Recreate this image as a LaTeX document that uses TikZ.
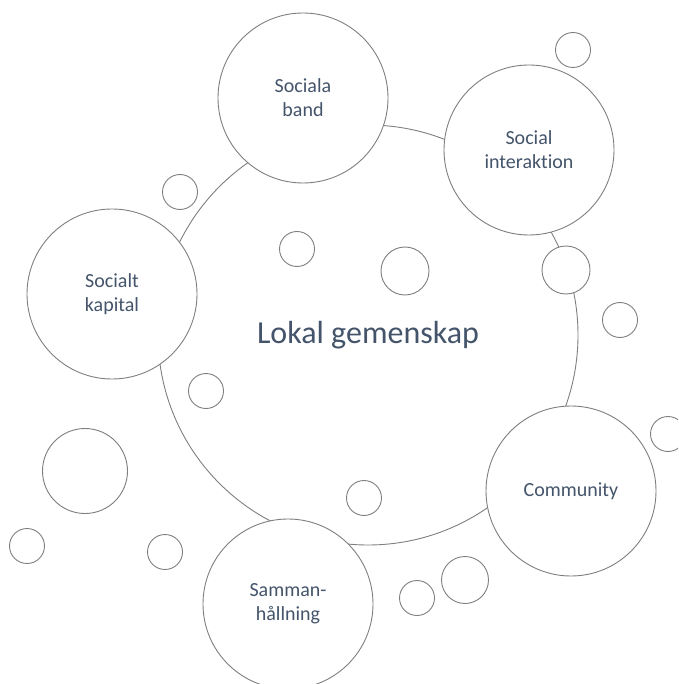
\documentclass[tikz,border=0pt]{standalone}
\usepackage{fontspec}
\setmainfont[Ligatures=CommonOff]{Carlito}
\definecolor{labeltext}{HTML}{44546A}
\definecolor{rimgray}{HTML}{7F7F7F}
\tikzset{
  bubble/.style={circle, draw=rimgray, line width=0.9pt, fill=white,
    inner sep=0pt, outer sep=0pt, text=labeltext, align=center,
    font=\fontsize{20}{24}\selectfont},
}
\begin{document}
\begin{tikzpicture}[x=1pt, y=-1pt]
            \useasboundingbox (0, 0) rectangle (678, 684);
            \clip (0, 0) rectangle (678, 684);
            % main circle
            \node[bubble, minimum size=420pt, font=\fontsize{32}{38}\selectfont] (lokal) at (368, 335) {Lokal gemenskap};
            % labelled circles
            \node[bubble, minimum size=170pt] (band) at (303, 98) {Sociala\\band};
            \node[bubble, minimum size=170pt] (interaktion) at (529, 150) {Social\\interaktion};
            \node[bubble, minimum size=170pt] (kapital) at (112, 294) {Socialt\\kapital};
            \node[bubble, minimum size=170pt] (community) at (571, 491) {Community};
            \node[bubble, minimum size=170pt] (hallning) at (288, 604) {Samman-\\hållning};
            % empty circles
            \node[bubble, minimum size=35pt] (e1) at (573, 50) {};
            \node[bubble, minimum size=35pt] (e2) at (180, 192) {};
            \node[bubble, minimum size=35pt] (e3) at (297, 249) {};
            \node[bubble, minimum size=48pt] (e4) at (405, 271) {};
            \node[bubble, minimum size=48pt] (e5) at (566, 270) {};
            \node[bubble, minimum size=35pt] (e6) at (620, 320) {};
            \node[bubble, minimum size=35pt] (e7) at (206, 391) {};
            \node[bubble, minimum size=85pt] (e8) at (85, 471) {};
            \node[bubble, minimum size=35pt] (e9) at (668, 434) {};
            \node[bubble, minimum size=35pt] (e10) at (364, 498) {};
            \node[bubble, minimum size=35pt] (e11) at (27, 546) {};
            \node[bubble, minimum size=35pt] (e12) at (165, 552) {};
            \node[bubble, minimum size=47pt] (e13) at (465, 580) {};
            \node[bubble, minimum size=35pt] (e14) at (417, 598) {};
        \end{tikzpicture}
\end{document}
